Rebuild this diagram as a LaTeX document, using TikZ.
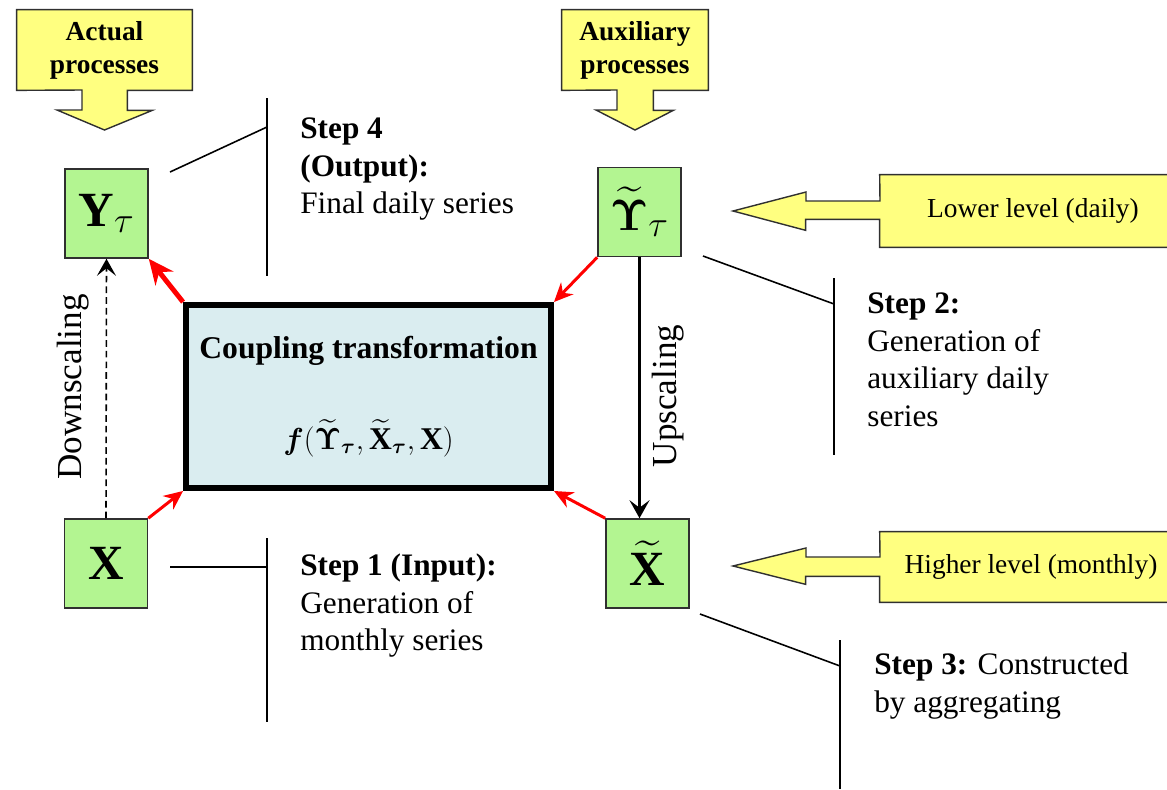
\documentclass[tikz,border=0pt]{standalone}
\usepackage{amsmath}
\usepackage{fontspec}
\setmainfont{Liberation Serif}
\usetikzlibrary{arrows.meta, positioning, backgrounds}

\definecolor{lemon}{HTML}{FFFF80}
\definecolor{leaf}{HTML}{B3F591}
\definecolor{paleblue}{HTML}{DAEDF0}
\definecolor{edgegray}{HTML}{303030}

\begin{document}
\begin{tikzpicture}[
    x=0.02cm, y=-0.02cm,
    yellowshape/.style={draw=edgegray, fill=lemon, line width=0.8pt},
    headtext/.style={align=center, inner sep=0pt, font=\fontsize{15.6}{18.8}\selectfont\bfseries},
    leveltext/.style={inner sep=0pt, font=\fontsize{15.6}{18.8}\selectfont},
    varbox/.style={rectangle, draw=edgegray, fill=leaf, line width=0.9pt, minimum width=1.66cm, minimum height=1.78cm, inner sep=0pt, font=\fontsize{28}{30}\selectfont\bfseries},
    coupling/.style={rectangle, draw, line width=3.4pt, fill=paleblue, minimum width=7.3cm, minimum height=3.66cm, align=center, font=\fontsize{18}{21.6}\selectfont\bfseries},
    redarrow/.style={red, line width=1.7pt, -{Stealth[length=0.38cm, width=0.34cm]}},
    thickred/.style={red, line width=2.8pt, -{Stealth[length=0.5cm, width=0.45cm]}},
    dasharrow/.style={line width=0.9pt, dash pattern=on 3.8pt off 2.3pt, -{Stealth[length=0.34cm, width=0.38cm, inset=0.15cm]}},
    scalearrow/.style={line width=1.4pt, -{Stealth[length=0.36cm, width=0.4cm, inset=0.15cm]}},
    steptext/.style={align=left, anchor=north west, inner sep=0pt, font=\fontsize{17.8}{21.6}\selectfont},
    stepline/.style={line width=0.9pt},
    scaletext/.style={rotate=90, inner sep=0pt, font=\fontsize{20}{24}\selectfont}
]
    \useasboundingbox (0,0) rectangle (1167,789);

    % Banners
    \node[headtext, minimum width=3.5cm, minimum height=1.6cm, text depth=0.1cm] (actual) at (104.5,50) {Actual\\processes};
    \node[headtext, minimum width=2.92cm, minimum height=1.6cm, text depth=0.1cm] (auxiliary) at (635,50) {Auxiliary\\processes};
    \node[leveltext, minimum width=6.12cm, minimum height=1.44cm] (lower) at (1033,211) {Lower level (daily)};
    \node[leveltext, minimum width=6.04cm, minimum height=1.4cm] (higher) at (1031,567) {Higher level (monthly)};
    \begin{scope}[on background layer]
        \draw[yellowshape] (actual.north west) -- (actual.north east) -- (actual.south east) -- ++(-65,0) -- ++(0,20) -- ++(25,0) -- (104.5,130) -- ++(-47.5,-20) -- ++(25,0) -- ++(0,-20) -- (actual.south west) -- cycle;
        \draw[yellowshape] (auxiliary.north west) -- (auxiliary.north east) -- (auxiliary.south east) -- ++(-55,0) -- ++(0,20) -- ++(20,0) -- (635,130) -- ++(-39,-20) -- ++(21,0) -- ++(0,-20) -- (auxiliary.south west) -- cycle;
        \draw[yellowshape] (lower.north west) -- (lower.north east) -- (lower.south east) -- (lower.south west) -- ++(0,-28) -- ++(-74,0) -- ++(0,11) -- (733,211) -- ++(73,-19) -- ++(0,9) -- ++(74,0) -- cycle;
        \draw[yellowshape] (higher.north west) -- (higher.north east) -- (higher.south east) -- (higher.south west) -- ++(0,-26) -- ++(-74,0) -- ++(0,8) -- (733,566) -- ++(73,-18) -- ++(0,9) -- ++(74,0) -- cycle;
    \end{scope}

    % Series
    \node[varbox] (Ytau) at (106.5,213.5) {$\mathbf{Y}_{\tau}$};
    \node[varbox] (Ytilde) at (639.5,212) {$\widetilde{\boldsymbol{\Upsilon}}_{\tau}$};
    \node[varbox] (X) at (106,563.5) {$\mathbf{X}$};
    \node[varbox] (Xtilde) at (647.5,563.5) {$\widetilde{\mathbf{X}}$};

    \node[coupling] (coupling) at (368.5,396.5) {Coupling transformation\\[30pt]
        $\boldsymbol{f}(\widetilde{\boldsymbol{\Upsilon}}_{\boldsymbol{\tau}}, \widetilde{\mathbf{X}}_{\boldsymbol{\tau}}, \mathbf{X})$};

    % Arrows
    \draw[thickred] (coupling.north west) -- (Ytau.south east);
    \draw[redarrow] (Ytilde.south west) -- (coupling.north east);
    \draw[redarrow] (X.north east) -- (coupling.south west);
    \draw[redarrow] (Xtilde.north west) -- (coupling.south east);
    \draw[dasharrow] (X.north) -- (Ytau.south);
    \draw[scalearrow] (Ytilde.south) -- (Ytilde.south |- Xtilde.north);
    \node[scaletext] (downlabel) at (73,387) {Downscaling};
    \node[scaletext] (uplabel) at (668,396) {Upscaling};

    % Steps
    \node[steptext] (step4) at (300,117) {\textbf{Step 4}\\\textbf{(Output):}\\Final daily series};
    \node[steptext] (step2) at (867,292) {\textbf{Step 2:}\\Generation of\\auxiliary daily\\series};
    \node[steptext] (step1) at (300,553) {\textbf{Step 1 (Input):}\\Generation of\\monthly series};
    \node[steptext] (step3) at (874,652) {\textbf{Step 3:} Constructed\\by aggregating};

    \coordinate (s4top) at (267,98);
    \coordinate (s4bot) at (267,276);
    \coordinate (s4knee) at (267,127);
    \coordinate (s4end) at (170,172);
    \coordinate (s2top) at (834,278);
    \coordinate (s2bot) at (834,455);
    \coordinate (s2knee) at (834,304);
    \coordinate (s2end) at (703,256);
    \coordinate (s1top) at (267,538);
    \coordinate (s1bot) at (267,722);
    \coordinate (s1knee) at (267,567);
    \coordinate (s1end) at (170,567);
    \coordinate (s3top) at (840,640);
    \coordinate (s3bot) at (840,789);
    \coordinate (s3knee) at (840,666);
    \coordinate (s3end) at (700,614);
    \draw[stepline] (s4top) -- (s4bot);
    \draw[stepline] (s4end) -- (s4knee);
    \draw[stepline] (s2top) -- (s2bot);
    \draw[stepline] (s2end) -- (s2knee);
    \draw[stepline] (s1top) -- (s1bot);
    \draw[stepline] (s1end) -- (s1knee);
    \draw[stepline] (s3top) -- (s3bot);
    \draw[stepline] (s3end) -- (s3knee);
\end{tikzpicture}
\end{document}
